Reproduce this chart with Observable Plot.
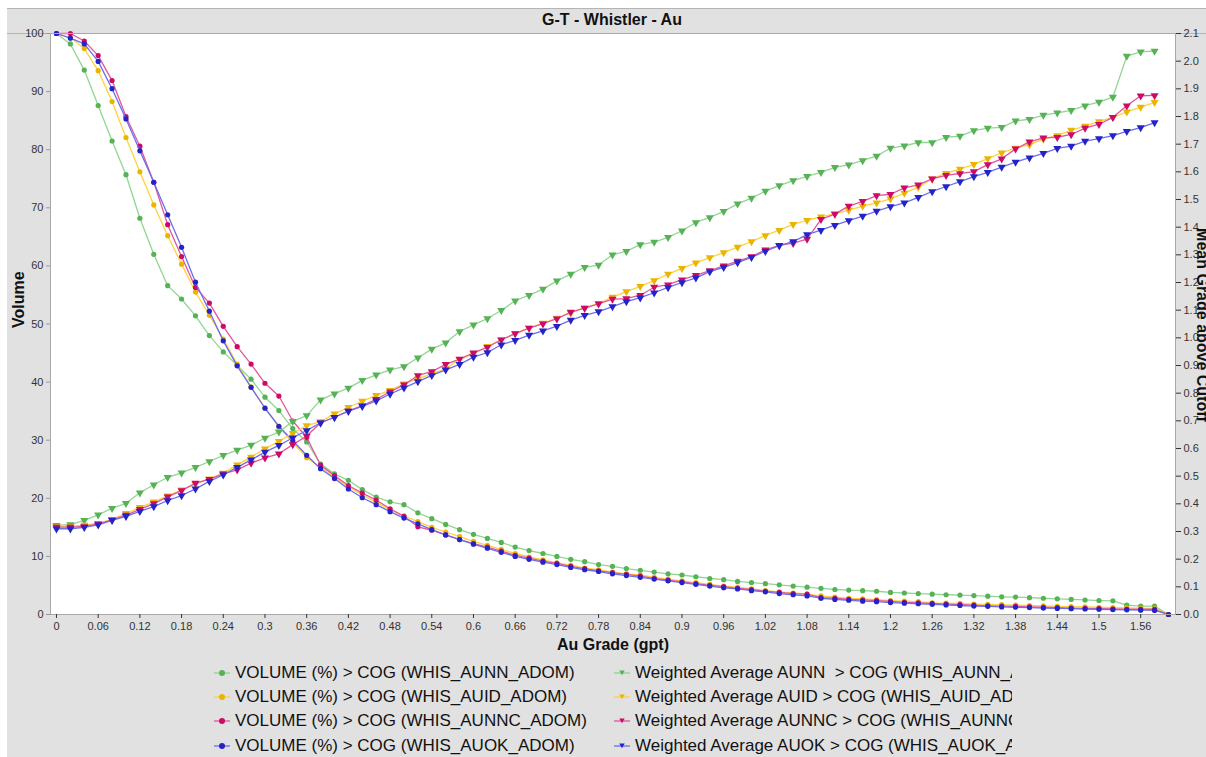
<!DOCTYPE html>
<html><head><meta charset="utf-8">
<script src="https://cdn.jsdelivr.net/npm/d3@7"></script>
<script src="https://cdn.jsdelivr.net/npm/@observablehq/plot@0.6"></script>
<style>
html,body{margin:0;padding:0;background:#fff;}
#wrap{position:relative;width:1206px;height:757px;overflow:hidden;font-family:"Liberation Sans",Arial,sans-serif;}
#panel{position:absolute;left:7px;top:8px;width:1230px;height:760px;background:#e1e1e1;}
#titlebar{position:absolute;left:7px;top:8px;width:1230px;height:26px;border-top:1px solid #b4b4b4;border-bottom:1px solid #b4b4b4;box-sizing:border-box;}
#title{position:absolute;left:612px;top:9px;transform:translateX(-50%);font-weight:bold;font-size:16px;line-height:22px;color:#111;white-space:nowrap;}
#chart{position:absolute;left:0;top:0;}
.leg{position:absolute;font-size:17px;line-height:20px;color:#111;white-space:pre;overflow:hidden;}
.leg svg{position:absolute;left:0;top:2px;}
.leg span{position:absolute;left:21px;top:0;}
</style></head><body><div id="wrap">
<div id="panel"></div>
<div id="titlebar"></div>
<div id="title">G-T - Whistler - Au</div>
<div id="chart"></div>
<div id="legend"></div>
</div>
<script>
// Cut-off grades (gpt)
const grades = [0,0.02,0.04,0.06,0.08,0.10,0.12,0.14,0.16,0.18,0.20,0.22,0.24,0.26,0.28,0.30,0.32,0.34,0.36,0.38,0.40,0.42,0.44,0.46,0.48,0.50,0.52,0.54,0.56,0.58,0.60,0.62,0.64,0.66,0.68,0.70,0.72,0.74,0.76,0.78,0.80,0.82,0.84,0.86,0.88,0.90,0.92,0.94,0.96,0.98,1.00,1.02,1.04,1.06,1.08,1.10,1.12,1.14,1.16,1.18,1.20,1.22,1.24,1.26,1.28,1.30,1.32,1.34,1.36,1.38,1.40,1.42,1.44,1.46,1.48,1.50,1.52,1.54,1.56,1.58,1.60];

// Volume (%) above cut-off (left axis)
const volAUNN = [100,98.2,93.7,87.6,81.5,75.7,68.2,62.0,56.6,54.3,51.4,48.0,45.2,42.9,40.5,37.4,35.1,32.0,29.7,25.9,24.2,23.1,21.5,20.2,19.4,18.9,17.5,16.5,15.5,14.6,13.8,13.1,12.4,11.6,11.0,10.5,10.0,9.5,9.1,8.6,8.3,7.9,7.6,7.3,7.0,6.8,6.5,6.2,6.0,5.7,5.5,5.3,5.1,4.9,4.7,4.5,4.3,4.2,4.1,4.0,3.8,3.7,3.6,3.5,3.4,3.35,3.25,3.15,3.05,3.0,2.9,2.8,2.7,2.6,2.5,2.4,2.35,1.6,1.45,1.45,0];
const volAUID = [100,99.3,97.4,93.6,88.3,82.1,76.2,70.5,65.2,60.3,55.5,51.5,47.4,43.1,39.2,35.6,32.3,29.6,27.0,25.3,23.6,22.0,20.6,19.3,18.0,17.0,16.0,15.0,14.2,13.4,12.6,11.9,11.2,10.5,9.9,9.4,8.9,8.5,8.0,7.7,7.3,7.0,6.8,6.4,6.1,5.8,5.5,5.2,4.9,4.7,4.4,4.1,3.9,3.7,3.5,3.2,3.0,2.8,2.7,2.55,2.4,2.3,2.2,2.0,1.95,1.9,1.8,1.75,1.7,1.6,1.55,1.5,1.4,1.35,1.3,1.25,1.2,1.15,1.1,1.05,0];
const volAUNNC = [100,100,98.7,96.2,91.9,85.7,80.6,74.4,67.1,61.6,56.3,53.6,49.6,46.1,43.1,39.8,37.6,33.3,30.5,25.7,23.9,22.2,20.9,19.7,18.2,16.9,15.1,14.5,13.7,12.9,12.2,11.6,10.9,10.2,9.7,9.2,8.8,8.3,7.9,7.5,7.2,6.9,6.6,6.2,5.9,5.6,5.3,5.0,4.8,4.5,4.3,4.0,3.8,3.6,3.5,2.9,2.8,2.6,2.5,2.4,2.25,2.1,2.0,1.9,1.8,1.7,1.6,1.5,1.45,1.4,1.3,1.25,1.2,1.1,1.05,1.0,0.95,0.9,0.9,0.9,0];
const volAUOK = [100,99.2,98.2,95.2,90.5,85.3,79.8,74.4,68.8,63.2,57.2,52.2,47.1,42.8,39.1,35.5,32.4,29.9,27.4,25.1,23.4,21.6,20.1,18.9,17.7,16.6,15.6,14.6,13.7,12.9,12.1,11.4,10.7,10.0,9.5,9.0,8.6,8.1,7.7,7.4,7.0,6.7,6.4,6.1,5.8,5.5,5.2,4.9,4.6,4.4,4.1,3.9,3.6,3.4,3.2,2.8,2.6,2.45,2.3,2.2,2.05,1.95,1.85,1.75,1.65,1.55,1.45,1.4,1.3,1.25,1.2,1.1,1.05,1.0,0.95,0.9,0.85,0.8,0.75,0.7,0];

// Weighted average grade above cut-off (right axis)
const waAUNN = [0.322,0.325,0.34,0.36,0.384,0.402,0.44,0.469,0.496,0.512,0.532,0.553,0.575,0.594,0.612,0.638,0.66,0.698,0.719,0.776,0.798,0.818,0.846,0.866,0.884,0.896,0.928,0.959,0.982,1.023,1.047,1.07,1.099,1.134,1.154,1.176,1.206,1.23,1.255,1.263,1.3,1.313,1.337,1.346,1.363,1.387,1.417,1.435,1.457,1.484,1.505,1.53,1.55,1.568,1.584,1.598,1.616,1.625,1.641,1.657,1.686,1.694,1.706,1.706,1.725,1.729,1.749,1.758,1.761,1.784,1.79,1.805,1.813,1.822,1.839,1.852,1.87,2.018,2.034,2.036,null];
const waAUID = [0.318,0.318,0.323,0.329,0.344,0.366,0.387,0.407,0.429,0.451,0.471,0.49,0.511,0.541,0.569,0.599,0.626,0.655,0.683,0.697,0.725,0.749,0.771,0.792,0.81,0.834,0.852,0.87,0.888,0.922,0.942,0.969,0.993,1.015,1.035,1.053,1.071,1.09,1.109,1.125,1.147,1.167,1.186,1.207,1.23,1.251,1.271,1.29,1.308,1.328,1.348,1.37,1.389,1.41,1.425,1.437,1.448,1.462,1.476,1.488,1.502,1.523,1.545,1.575,1.595,1.61,1.627,1.648,1.669,1.686,1.698,1.718,1.731,1.751,1.765,1.782,1.797,1.817,1.834,1.851,null];
const waAUNNC = [0.316,0.316,0.318,0.328,0.342,0.359,0.38,0.401,0.425,0.448,0.475,0.489,0.508,0.523,0.547,0.566,0.581,0.614,0.645,0.693,0.713,0.735,0.755,0.778,0.805,0.83,0.864,0.878,0.904,0.923,0.946,0.966,0.993,1.015,1.035,1.051,1.069,1.093,1.107,1.123,1.14,1.142,1.154,1.183,1.192,1.21,1.226,1.243,1.26,1.277,1.294,1.318,1.334,1.342,1.357,1.428,1.447,1.476,1.493,1.514,1.519,1.542,1.553,1.575,1.587,1.594,1.601,1.626,1.647,1.683,1.708,1.723,1.725,1.735,1.758,1.772,1.797,1.839,1.875,1.876,null];
const waAUOK = [0.31,0.31,0.315,0.324,0.34,0.355,0.373,0.39,0.412,0.43,0.454,0.481,0.505,0.532,0.559,0.587,0.611,0.639,0.665,0.693,0.713,0.735,0.752,0.772,0.797,0.819,0.842,0.864,0.884,0.904,0.93,0.947,0.975,0.991,1.01,1.025,1.042,1.064,1.081,1.095,1.113,1.131,1.145,1.163,1.182,1.2,1.217,1.239,1.255,1.272,1.291,1.313,1.333,1.348,1.373,1.389,1.407,1.424,1.44,1.458,1.474,1.488,1.508,1.529,1.547,1.565,1.583,1.598,1.617,1.635,1.651,1.667,1.685,1.693,1.711,1.72,1.731,1.746,1.76,1.778,null];

// Axis ticks
const xTicks = [0,0.06,0.12,0.18,0.24,0.3,0.36,0.42,0.48,0.54,0.6,0.66,0.72,0.78,0.84,0.9,0.96,1.02,1.08,1.14,1.2,1.26,1.32,1.38,1.44,1.5,1.56];
const leftTicks = [0,10,20,30,40,50,60,70,80,90,100];
const rightTicks = [0,0.1,0.2,0.3,0.4,0.5,0.6,0.7,0.8,0.9,1.0,1.1,1.2,1.3,1.4,1.5,1.6,1.7,1.8,1.9,2.0,2.1];
const rightMax = 2.1;

// Series labels and colours
const volNames = ["VOLUME (%) > COG (WHIS_AUNN_ADOM)","VOLUME (%) > COG (WHIS_AUID_ADOM)","VOLUME (%) > COG (WHIS_AUNNC_ADOM)","VOLUME (%) > COG (WHIS_AUOK_ADOM)"];
const waNames = ["Weighted Average AUNN  > COG (WHIS_AUNN_ADOM)","Weighted Average AUID > COG (WHIS_AUID_ADOM)","Weighted Average AUNNC > COG (WHIS_AUNNC_ADOM)","Weighted Average AUOK > COG (WHIS_AUOK_ADOM)"];
const dotColors = ["#55b255","#ebb400","#cc0a68","#2323c8"];
const lineColors = ["#90d690","#ffd23c","#e2569b","#6d6ded"];

const volSeries = [volAUNN, volAUID, volAUNNC, volAUOK];
const waSeries = [waAUNN, waAUID, waAUNNC, waAUOK];

const marks = [Plot.frame({fill:"white", stroke:null})];
volSeries.forEach((arr,i)=>{
  const data = grades.map((g,j)=>({g, v:arr[j]}));
  marks.push(Plot.line(data,{x:"g",y:"v",stroke:lineColors[i],strokeWidth:1.3}));
  marks.push(Plot.dot(data,{x:"g",y:"v",r:2.6,fill:dotColors[i],stroke:null,symbol:"circle"}));
});
waSeries.forEach((arr,i)=>{
  const data = grades.map((g,j)=>({g, v:arr[j]})).filter(d=>d.v!=null);
  marks.push(Plot.line(data,{x:"g",y:d=>d.v*100/rightMax,stroke:lineColors[i],strokeWidth:1.3}));
  marks.push(Plot.dot(data,{x:"g",y:d=>d.v*100/rightMax,r:3,fill:dotColors[i],stroke:null,symbol:"triangle",rotate:180}));
});
marks.push(Plot.frame({stroke:"#a9a9a9", strokeWidth:1}));
marks.push(Plot.axisY({ticks:leftTicks, tickSize:4, tickPadding:3, fontSize:11, label:null, color:"#333", stroke:"#999"}));
marks.push(Plot.axisY({anchor:"right", ticks:rightTicks.map(v=>v*100/rightMax), tickFormat:d=>(d*rightMax/100).toFixed(1), tickSize:5, tickPadding:3, fontSize:11, label:null, color:"#333"}));
marks.push(Plot.axisX({ticks:xTicks, tickFormat:d=>String(+d.toFixed(2)), tickSize:4, tickPadding:4, fontSize:11, label:null, color:"#333"}));
marks.push(Plot.text(["Au Grade (gpt)"],{frameAnchor:"bottom", dy:35, fontWeight:"bold", fontSize:16, fill:"#111"}));
marks.push(Plot.text(["Volume"],{frameAnchor:"left", dx:-32, dy:4, rotate:-90, fontWeight:"bold", fontSize:16, fill:"#111"}));
marks.push(Plot.text(["Mean Grade above Cutoff"],{frameAnchor:"right", textAnchor:"middle", dx:27, dy:1, rotate:90, fontWeight:"bold", fontSize:16, fill:"#111"}));

const chart = Plot.plot({
  width:1206, height:650,
  marginLeft:50, marginRight:31, marginTop:33, marginBottom:36,
  style:{background:"transparent", fontFamily:"'Liberation Sans', Arial, sans-serif", overflow:"visible"},
  x:{domain:[-0.0086,1.6101]},
  y:{domain:[0,100]},
  marks
});
document.getElementById("chart").appendChild(chart);

// Legend
const leg = document.getElementById("legend");
const rowsY = [663,687,711,736];
function addLegend(x, y, name, color, lineColor, tri, clipW){
  const d = document.createElement("div");
  d.className = "leg";
  d.style.left = x+"px"; d.style.top = y+"px";
  d.style.width = clipW+"px"; d.style.height="22px";
  const marker = tri
    ? `<path d="M2.7,-2.5 L-2.7,-2.5 L0,2.3 Z" transform="translate(8,8)" fill="${color}"/>`
    : `<circle cx="8" cy="8" r="3" fill="${color}"/>`;
  d.innerHTML = `<svg width="16" height="16"><line x1="0" y1="8" x2="16" y2="8" stroke="${lineColor}" stroke-width="1.3"/>${marker}</svg><span>${name}</span>`;
  leg.appendChild(d);
}
volNames.forEach((n,i)=>addLegend(214, rowsY[i], n, dotColors[i], lineColors[i], false, 380));
waNames.forEach((n,i)=>addLegend(614, rowsY[i], n, dotColors[i], lineColors[i], true, 398));
</script>
</body></html>
